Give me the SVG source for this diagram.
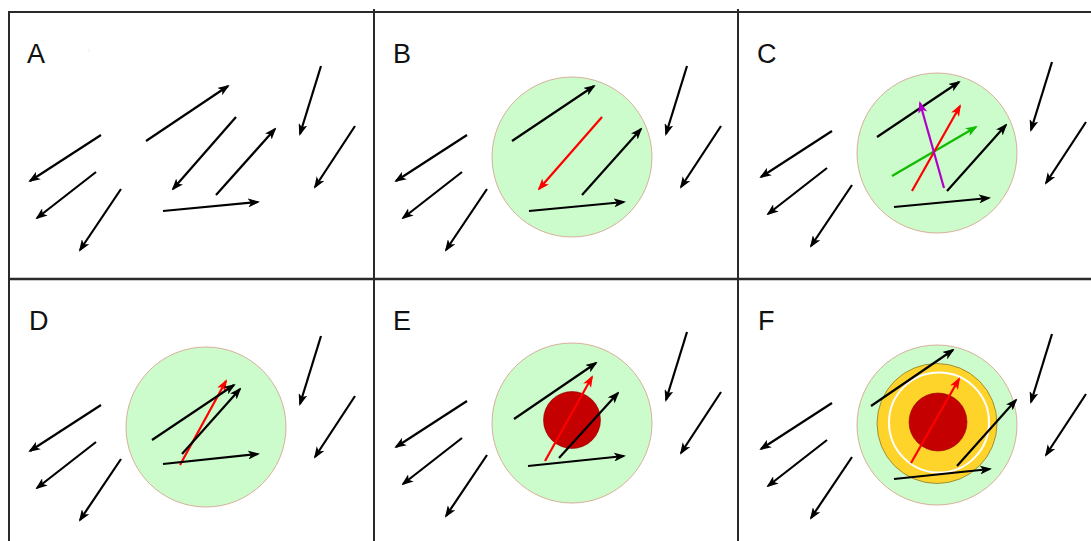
<svg xmlns="http://www.w3.org/2000/svg" xmlns:xlink="http://www.w3.org/1999/xlink" width="1091" height="541" viewBox="0 0 1091 541">
<style>
.lbl{font-family:"Liberation Sans",Arial,sans-serif;font-size:27px;fill:#111}
.k{stroke:#000;stroke-width:2.2;fill:none;marker-end:url(#mk)}
.r{stroke:#ff0000;stroke-width:2.2;fill:none;marker-end:url(#mr)}
.g{stroke:#11bb00;stroke-width:2.2;fill:none;marker-end:url(#mg)}
.p{stroke:#b000c8;stroke-width:2.2;fill:none;marker-end:url(#mp)}
.cell{fill:#ccfccc;stroke:#d49a88;stroke-width:0.8}
.core{fill:#c40000;stroke:#900000;stroke-width:0.6}
.grid{stroke:#2a2a2a;fill:none}
</style>
<defs>
<marker id="mk" markerUnits="userSpaceOnUse" markerWidth="12" markerHeight="9" refX="10" refY="4.5" orient="auto"><path d="M0,0 L12,4.5 L0,9 L3,4.5 z" fill="#000"/></marker>
<marker id="mr" markerUnits="userSpaceOnUse" markerWidth="12" markerHeight="9" refX="10" refY="4.5" orient="auto"><path d="M0,0 L12,4.5 L0,9 L3,4.5 z" fill="#ff0000"/></marker>
<marker id="mg" markerUnits="userSpaceOnUse" markerWidth="12" markerHeight="9" refX="10" refY="4.5" orient="auto"><path d="M0,0 L12,4.5 L0,9 L3,4.5 z" fill="#11bb00"/></marker>
<marker id="mp" markerUnits="userSpaceOnUse" markerWidth="12" markerHeight="9" refX="10" refY="4.5" orient="auto"><path d="M0,0 L12,4.5 L0,9 L3,4.5 z" fill="#b000c8"/></marker>
<line id="a1" x1="101" y1="135" x2="30" y2="181"/>
<line id="a2" x1="96" y1="172" x2="37" y2="218"/>
<line id="a3" x1="121" y1="189" x2="80" y2="250"/>
<line id="a4" x1="146" y1="141" x2="228" y2="86"/>
<line id="a5" x1="236" y1="117" x2="173" y2="189"/>
<line id="a6" x1="216" y1="195" x2="275" y2="129"/>
<line id="a7" x1="163" y1="211" x2="258" y2="202"/>
<line id="a8" x1="321" y1="66" x2="300" y2="134"/>
<line id="a9" x1="355" y1="126" x2="315" y2="187"/>
</defs>
<rect width="1091" height="541" fill="#fff"/>
<g id="grid">
<line class="grid" x1="8" y1="12" x2="1091" y2="12" stroke-width="2"/>
<line class="grid" x1="9" y1="12" x2="9" y2="541" stroke-width="2"/>
<line class="grid" x1="374" y1="9" x2="374" y2="541" stroke-width="2"/>
<line class="grid" x1="738" y1="9" x2="738" y2="541" stroke-width="2"/>
<line class="grid" x1="8" y1="279" x2="1091" y2="279" stroke-width="2.5"/>
</g>
<g id="panelA">
<text class="lbl" x="27" y="63">A</text>
<text x="88" y="52" font-family="Liberation Sans,sans-serif" font-size="5" fill="#999">:</text>
<g class="connectors">
<use xlink:href="#a1" class="k"/><use xlink:href="#a2" class="k"/><use xlink:href="#a3" class="k"/>
<use xlink:href="#a4" class="k"/><use xlink:href="#a5" class="k"/><use xlink:href="#a6" class="k"/>
<use xlink:href="#a7" class="k"/><use xlink:href="#a8" class="k"/><use xlink:href="#a9" class="k"/>
</g>
</g>
<g id="panelB">
<text class="lbl" x="393" y="63">B</text>
<g transform="translate(366,0)">
<circle class="cell" cx="206" cy="157" r="80"/>
<g class="connectors">
<use xlink:href="#a1" class="k"/><use xlink:href="#a2" class="k"/><use xlink:href="#a3" class="k"/>
<use xlink:href="#a4" class="k"/><use xlink:href="#a5" class="r"/><use xlink:href="#a6" class="k"/>
<use xlink:href="#a7" class="k"/><use xlink:href="#a8" class="k"/><use xlink:href="#a9" class="k"/>
</g>
</g>
</g>
<g id="panelC">
<text class="lbl" x="757" y="63">C</text>
<g transform="translate(731,-4)">
<circle class="cell" cx="206" cy="157" r="80"/>
<g class="connectors">
<use xlink:href="#a1" class="k"/><use xlink:href="#a2" class="k"/><use xlink:href="#a3" class="k"/>
<use xlink:href="#a4" class="k"/><use xlink:href="#a6" class="k"/>
<use xlink:href="#a7" class="k"/><use xlink:href="#a8" class="k"/><use xlink:href="#a9" class="k"/>
<line class="g" x1="161" y1="180" x2="245" y2="131"/>
<line class="r" x1="181" y1="195" x2="229" y2="110"/>
<line class="p" x1="213" y1="192" x2="189" y2="107"/>
</g>
</g>
</g>
<g id="panelD">
<text class="lbl" x="29" y="330">D</text>
<g transform="translate(0,270)">
<circle class="cell" cx="206" cy="157" r="80"/>
<g class="connectors">
<use xlink:href="#a1" class="k"/><use xlink:href="#a2" class="k"/><use xlink:href="#a3" class="k"/>
<use xlink:href="#a8" class="k"/><use xlink:href="#a9" class="k"/>
<line class="r" x1="180" y1="195" x2="226" y2="111"/>
<line class="k" x1="152" y1="170" x2="234" y2="115"/>
<line class="k" x1="182" y1="184" x2="240" y2="119"/>
<line class="k" x1="163" y1="194" x2="258" y2="184"/>
</g>
</g>
</g>
<g id="panelE">
<text class="lbl" x="393" y="330">E</text>
<g transform="translate(366,266)">
<circle class="cell" cx="206" cy="157" r="80"/>
<circle class="core" cx="206" cy="154" r="28.5"/>
<g class="connectors">
<use xlink:href="#a1" class="k"/><use xlink:href="#a2" class="k"/><use xlink:href="#a3" class="k"/>
<use xlink:href="#a8" class="k"/><use xlink:href="#a9" class="k"/>
<line class="k" x1="148" y1="153" x2="230" y2="97"/>
<line class="r" x1="179" y1="195" x2="226" y2="111"/>
<line class="k" x1="193" y1="192" x2="252" y2="127"/>
<line class="k" x1="162" y1="200" x2="258" y2="190"/>
</g>
</g>
</g>
<g id="panelF">
<text class="lbl" x="758" y="330">F</text>
<g transform="translate(731,268)">
<circle class="cell" cx="206" cy="157" r="80"/>
<circle cx="206" cy="155.5" r="60" fill="#ffd42a" stroke="#8a7a30" stroke-width="0.8"/>
<circle cx="208" cy="154.5" r="50" fill="none" stroke="#fff" stroke-width="2"/>
<circle class="core" cx="207" cy="154" r="29"/>
<g class="connectors">
<use xlink:href="#a1" class="k"/><use xlink:href="#a2" class="k"/><use xlink:href="#a3" class="k"/>
<use xlink:href="#a8" class="k"/><use xlink:href="#a9" class="k"/>
<line class="k" x1="140" y1="138" x2="222" y2="82"/>
<line class="r" x1="180" y1="195" x2="228" y2="111"/>
<line class="k" x1="226" y1="198" x2="285" y2="132"/>
<line class="k" x1="163" y1="211" x2="259" y2="201"/>
</g>
</g>
</g>
</svg>
